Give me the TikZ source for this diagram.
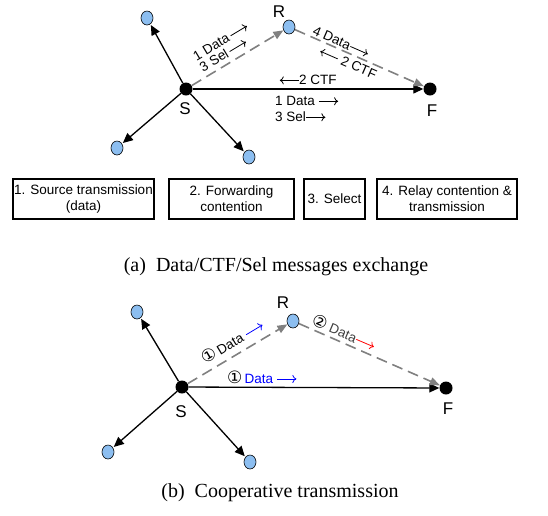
\documentclass[tikz,border=0pt]{standalone}
\usepackage{fontspec}
\setmainfont{Liberation Sans}
\newfontfamily\capfont{Liberation Serif}
\newfontfamily\symfont{DejaVu Sans}
\usetikzlibrary{arrows.meta,shapes.geometric}

\definecolor{nodeblue}{RGB}{140,190,240}
\definecolor{linkgray}{RGB}{128,128,128}

% thin text arrows
\newcommand{\msgto}[1][black]{\tikz[baseline=-0.6ex]\draw[#1, line width=0.8pt,
  -{To[length=4pt,width=8pt]}] (0pt,0pt) -- (19pt,0pt);}
\newcommand{\msgfrom}[1][black]{\tikz[baseline=-0.6ex]\draw[#1, line width=0.8pt,
  {To[length=4pt,width=8pt]}-] (0pt,0pt) -- (19pt,0pt);}
\newcommand{\stepno}[1]{{\symfont\fontsize{17}{17}\selectfont #1}}

\tikzset{
  relay/.style={ellipse, draw=black, fill=nodeblue, line width=0.6pt,
    minimum width=12pt, minimum height=14pt, inner sep=0pt},
  terminal/.style={circle, fill=black, minimum size=13pt, inner sep=0pt},
  link/.style={line width=1.3pt, -{Triangle[length=10pt,width=9pt]}},
  relaylink/.style={linkgray, line width=1.6pt, dash pattern=on 11pt off 6pt,
    -{Triangle[length=10pt,width=8pt]}},
  msg/.style={font=\fontsize{13.5}{13}\selectfont, inner sep=1pt},
  phase/.style={draw, line width=2pt, minimum height=40pt, inner sep=1pt,
    align=center, font=\fontsize{13.5}{16}\selectfont},
  lbl/.style={font=\fontsize{17}{18}\selectfont, inner sep=0pt},
  caption/.style={font=\capfont\fontsize{20}{22}\selectfont}
}

\begin{document}
\begin{tikzpicture}[x=1pt, y=-1pt]

\useasboundingbox (0,0) rectangle (548,515);

% (a) messages exchange
\node [terminal] (s) at (186,89) {};
\node [relay] (r) at (289,27) {};
\node [terminal] (f) at (430,89) {};
\node [relay] (n1) at (147,18) {};
\node [relay] (n2) at (117,148) {};
\node [relay] (n3) at (249,157) {};

\node [lbl] (sLbl) at (185,109) {S};
\node [lbl] (rLbl) at (279,12) {R};
\node [lbl] (fLbl) at (432,111) {F};

\draw [link, shorten >=1pt] (s) -- (n1);
\draw [link, shorten >=1pt] (s) -- (n2);
\draw [link, shorten >=1pt] (s) -- (n3);
\draw [link] (s) -- (f);
\draw [relaylink] (s) -- (r);
\draw [relaylink] (r) -- (f);

\node [msg, rotate=31, align=left] (srMsg) at (224,47)
  {1 Data\,\msgto\\3 Sel\,\msgto};
\node [msg, rotate=-23.7] (rfData) at (341,42) {4 Data\msgto};
\node [msg, rotate=-23.7] (rfCtf) at (348,63) {\msgfrom\ 2 CTF};
\node [msg] (sfCtf) at (308,80) {\msgfrom2 CTF};
\node [msg, anchor=west, align=left, font=\fontsize{13.5}{16}\selectfont]
  (sfMsg) at (274,109) {1 Data \msgto\\3 Sel\msgto};

\node [phase, minimum width=139pt] (ph1) at (83.5,198.5)
  {1. Source transmission\\(data)};
\node [phase, minimum width=125pt] (ph2) at (231.5,198.5)
  {2. Forwarding\\contention};
\node [phase, minimum width=61pt] (ph3) at (334.5,198.5) {3. Select};
\node [phase, minimum width=140pt] (ph4) at (447,198.5)
  {4. Relay contention \&\\transmission};

\node [caption] (capA) at (276,267)
  {(a)\hspace{0.5em}Data/CTF/Sel messages exchange};

% (b) cooperative transmission
\node [terminal] (s2) at (182,387) {};
\node [relay] (r2) at (293,321) {};
\node [terminal] (f2) at (446,388) {};
\node [relay] (m1) at (137,312) {};
\node [relay] (m2) at (108,452) {};
\node [relay] (m3) at (250,462) {};

\node [lbl] (sLbl2) at (181,412) {S};
\node [lbl] (rLbl2) at (283,303) {R};
\node [lbl] (fLbl2) at (448,409) {F};

\draw [link, shorten >=1pt] (s2) -- (m1);
\draw [link, shorten >=1pt] (s2) -- (m2);
\draw [link, shorten >=1pt] (s2) -- (m3);
\draw [link] (s2) -- (f2);
\draw [relaylink] (s2) -- (r2);
\draw [relaylink] (r2) -- (f2);

\node [msg, rotate=31] (srData) at (232,341)
  {\stepno{①}\,Data \msgto[blue]};
\node [msg] (sfData) at (262,377)
  {\stepno{①}\,\textcolor{blue}{Data \msgto[blue]}};
\node [msg, rotate=-23.2] (rfData2) at (344,332)
  {\stepno{②}\ \textcolor{darkgray}{Data}\msgto[red]};

\node [caption] (capB) at (280,493)
  {(b)\hspace{0.5em}Cooperative transmission};

\end{tikzpicture}
\end{document}
